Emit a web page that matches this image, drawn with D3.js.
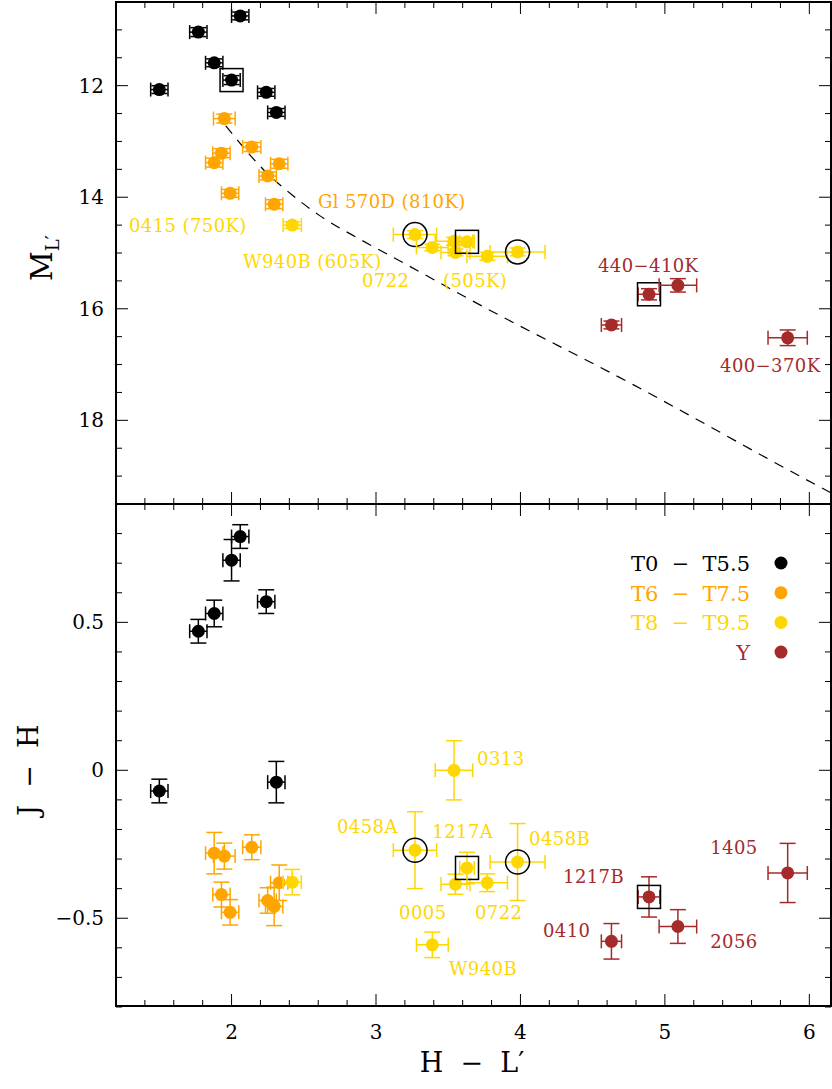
<!DOCTYPE html>
<html><head><meta charset="utf-8">
<script src="https://cdn.jsdelivr.net/npm/d3@7"></script>
<style>body{margin:0;background:#fff}</style>
</head><body><svg id="c" width="832" height="1089"></svg>
<script>
// ---------------- DATA ----------------
const groupNames = ["T0  −  T5.5", "T6  −  T7.5", "T8  −  T9.5", "Y"];
const groupColors = ["#000000", "#FFA500", "#FFD700", "#A52A2A"];

// T0 - T5.5
const t0Names = ["", "", "", "", "", "", ""];
const t0HL    = [1.50, 1.77, 1.88, 2.00, 2.06, 2.24, 2.31];
const t0HLerr = [0.06, 0.06, 0.06, 0.06, 0.06, 0.06, 0.06];
const t0ML    = [12.07, 11.04, 11.59, 11.90, 10.75, 12.12, 12.48];
const t0MLerr = [0.07, 0.08, 0.07, 0.08, 0.07, 0.07, 0.07];
const t0JH    = [-0.07, 0.47, 0.53, 0.71, 0.79, 0.57, -0.04];
const t0JHerr = [0.04, 0.04, 0.045, 0.07, 0.04, 0.04, 0.07];

// T6 - T7.5
const t6Names = ["", "", "", "", "", "", "", "Gl 570D"];
const t6HL    = [1.88, 1.95, 2.14, 1.93, 1.99, 2.33, 2.25, 2.295];
const t6HLerr = [0.06, 0.075, 0.063, 0.06, 0.06, 0.06, 0.06, 0.06];
const t6ML    = [13.38, 12.59, 13.10, 13.21, 13.93, 13.40, 13.62, 14.125];
const t6MLerr = [0.08, 0.08, 0.08, 0.08, 0.07, 0.08, 0.07, 0.08];
const t6JH    = [-0.28, -0.29, -0.26, -0.42, -0.48, -0.38, -0.44, -0.46];
const t6JHerr = [0.07, 0.044, 0.042, 0.042, 0.043, 0.06, 0.043, 0.065];

// T8 - T9.5
const t8Names = ["0415", "0458A", "W940B", "0313", "0005", "1217A", "0722", "0458B"];
const t8HL    = [2.42, 3.27, 3.39, 3.54, 3.55, 3.63, 3.77, 3.98];
const t8HLerr = [0.063, 0.15, 0.11, 0.13, 0.10, 0.05, 0.14, 0.19];
const t8ML    = [14.50, 14.67, 14.90, 14.79, 14.99, 14.80, 15.06, 14.98];
const t8MLerr = [0.06, 0.07, 0.06, 0.07, 0.06, 0.06, 0.07, 0.07];
const t8JH    = [-0.378, -0.27, -0.59, 0.0, -0.385, -0.33, -0.38, -0.31];
const t8JHerr = [0.043, 0.13, 0.043, 0.10, 0.034, 0.053, 0.03, 0.13];

// Y dwarfs
const yNames = ["0410", "1217B", "2056", "1405"];
const yHL    = [4.63, 4.89, 5.09, 5.85];
const yHLerr = [0.07, 0.075, 0.13, 0.136];
const yML    = [16.29, 15.74, 15.58, 16.52];
const yMLerr = [0.07, 0.10, 0.12, 0.14];
const yJH    = [-0.578, -0.428, -0.528, -0.347];
const yJHerr = [0.06, 0.068, 0.057, 0.10];

// highlighted objects (open box / open circle)
const boxTop = ["t0:3", "1217A", "1217B"];
const boxBot = ["1217A", "1217B"];
const circled = ["0458A", "0458B"];

// dashed model relation, H-L' vs M_L'
const lineHL = [1.96, 2.25, 2.42, 2.61, 2.90, 3.22, 3.64, 4.78, 6.07, 6.15];
const lineML = [12.72, 13.58, 13.96, 14.33, 14.77, 15.22, 15.82, 17.36, 19.19, 19.30];

// annotations [text, H-L', value, group]
const topNotes = [
  ["Gl 570D (810K)", 2.598, 14.19, 1],
  ["0415 (750K)", 1.29, 14.62, 2],
  ["W940B (605K)", 2.08, 15.27, 2],
  ["0722", 2.903, 15.61, 2],
  ["(505K)", 3.464, 15.61, 2],
  ["440−410K", 4.537, 15.34, 3],
  ["400−370K", 5.382, 17.13, 3]
];
const botNotes = [
  ["0313", 3.70, 0.018, 2],
  ["0458A", 2.73, -0.212, 2],
  ["1217A", 3.39, -0.229, 2],
  ["0458B", 4.06, -0.252, 2],
  ["0005", 3.16, -0.502, 2],
  ["0722", 3.685, -0.502, 2],
  ["W940B", 3.505, -0.692, 2],
  ["1217B", 4.295, -0.380, 3],
  ["0410", 4.156, -0.563, 3],
  ["1405", 5.314, -0.282, 3],
  ["2056", 5.314, -0.600, 3]
];

const xTicks = [2, 3, 4, 5, 6];
const yTopTicks = [12, 14, 16, 18];
const yBotTicks = [0.5, 0, -0.5];
const yBotTickLabels = ["0.5", "0", "−0.5"];

// ---------------- BUILD ----------------
const groups = [
  [t0Names, t0HL, t0HLerr, t0ML, t0MLerr, t0JH, t0JHerr],
  [t6Names, t6HL, t6HLerr, t6ML, t6MLerr, t6JH, t6JHerr],
  [t8Names, t8HL, t8HLerr, t8ML, t8MLerr, t8JH, t8JHerr],
  [yNames, yHL, yHLerr, yML, yMLerr, yJH, yJHerr]
];
const pts = [];
groups.forEach((g, gi) => {
  g[1].forEach((v, i) => {
    pts.push({g: gi, key: g[0][i] || ("t" + (gi === 0 ? "0" : "6") + ":" + i),
      hl: v, ehl: g[2][i], ml: g[3][i], eml: g[4][i], jh: g[5][i], ejh: g[6][i]});
  });
});

const svg = d3.select("#c");
const L = 116, R = 831;
const x = d3.scaleLinear().domain([1.2, 6.15]).range([L, R]);
const yT = d3.scaleLinear().domain([10.5, 19.5]).range([2, 504]);
const yB = d3.scaleLinear().domain([0.9, -0.8]).range([504, 1007]);

const FONT = "'DejaVu Serif', serif";

function range(a, b, s) { const o = []; for (let v = a; v <= b + 1e-9; v += s) o.push(+v.toFixed(4)); return o; }

function frame(y, top, bot, yMaj, yMin) {
  const g = svg.append("g");
  const xMaj = [2, 3, 4, 5, 6];
  const xMin = range(1.2, 6.15, 0.2).filter(v => Math.abs(v - Math.round(v)) > 1e-6);
  const drawX = (vals, len) => {
    vals.forEach(v => {
      g.append("line").attr("x1", x(v)).attr("x2", x(v)).attr("y1", top).attr("y2", top + len)
        .attr("stroke", "#000").attr("stroke-width", 1);
      g.append("line").attr("x1", x(v)).attr("x2", x(v)).attr("y1", bot).attr("y2", bot - len)
        .attr("stroke", "#000").attr("stroke-width", 1);
    });
  };
  drawX(xMaj, 12); drawX(xMin, 6);
  const drawY = (vals, len) => {
    vals.forEach(v => {
      g.append("line").attr("x1", L).attr("x2", L + len).attr("y1", y(v)).attr("y2", y(v))
        .attr("stroke", "#000").attr("stroke-width", 1);
      g.append("line").attr("x1", R).attr("x2", R - len).attr("y1", y(v)).attr("y2", y(v))
        .attr("stroke", "#000").attr("stroke-width", 1);
    });
  };
  drawY(yMaj, 12); drawY(yMin, 6);
  g.append("rect").attr("x", L).attr("y", top).attr("width", R - L).attr("height", bot - top)
    .attr("fill", "none").attr("stroke", "#000").attr("stroke-width", 2);
}

frame(yT, 2, 504, [12, 14, 16, 18], range(10.5, 19.5, 0.5).filter(v => v % 2 !== 0));
frame(yB, 504, 1006, [0.5, 0, -0.5], range(-0.8, 0.9, 0.1).filter(v => Math.abs(v * 2 - Math.round(v * 2)) > 1e-6));

// tick labels
svg.append("g").selectAll("text").data(xTicks).join("text")
  .attr("x", d => x(d)).attr("y", 1039).attr("text-anchor", "middle")
  .attr("font-family", FONT).attr("font-size", 20).text(d => d);
svg.append("g").selectAll("text").data(yTopTicks).join("text")
  .attr("x", 104).attr("y", d => yT(d) + 7).attr("text-anchor", "end")
  .attr("font-family", FONT).attr("font-size", 20).text(d => d);
svg.append("g").selectAll("text").data(yBotTicks).join("text")
  .attr("x", 104).attr("y", d => yB(d) + 7).attr("text-anchor", "end")
  .attr("font-family", FONT).attr("font-size", 20).text((d, i) => yBotTickLabels[i]);

// axis titles
const mt = svg.append("text").attr("transform", "translate(52,258) rotate(-90)")
  .attr("text-anchor", "middle").attr("font-family", FONT).attr("font-size", 29);
mt.append("tspan").text("M");
mt.append("tspan").attr("font-size", 18).attr("dy", 7).text("L′");
svg.append("text").attr("transform", "translate(38,770) rotate(-90)")
  .attr("text-anchor", "middle").attr("font-family", FONT).attr("font-size", 27)
  .attr("xml:space", "preserve").text("J  −  H");
svg.append("text").attr("x", 472).attr("y", 1072).attr("text-anchor", "middle")
  .attr("font-family", FONT).attr("font-size", 27).attr("xml:space", "preserve").text("H  −  L′");

// dashed relation
svg.append("clipPath").attr("id", "clipT").append("rect")
  .attr("x", L).attr("y", 2).attr("width", R - L).attr("height", 502);
svg.append("path").datum(lineHL.map((v, i) => [v, lineML[i]]))
  .attr("clip-path", "url(#clipT)")
  .attr("d", d3.line().curve(d3.curveMonotoneX).x(d => x(d[0])).y(d => yT(d[1])))
  .attr("fill", "none").attr("stroke", "#000").attr("stroke-width", 1.2).attr("stroke-dasharray", "10,8");

// points
function drawPoints(y, vk, ek, boxes) {
  const g = svg.append("g");
  const capX = 7, capY = 8;
  pts.forEach(p => {
    const c = groupColors[p.g];
    const cx = x(p.hl), cy = y(p[vk]);
    const x0 = x(p.hl - p.ehl), x1 = x(p.hl + p.ehl);
    const ya = y(p[vk] - p[ek]), yb = y(p[vk] + p[ek]);
    const sw = 1.5;
    g.append("line").attr("x1", x0).attr("x2", x1).attr("y1", cy).attr("y2", cy).attr("stroke", c).attr("stroke-width", sw);
    g.append("line").attr("x1", x0).attr("x2", x0).attr("y1", cy - capX).attr("y2", cy + capX).attr("stroke", c).attr("stroke-width", sw);
    g.append("line").attr("x1", x1).attr("x2", x1).attr("y1", cy - capX).attr("y2", cy + capX).attr("stroke", c).attr("stroke-width", sw);
    g.append("line").attr("x1", cx).attr("x2", cx).attr("y1", ya).attr("y2", yb).attr("stroke", c).attr("stroke-width", sw);
    g.append("line").attr("x1", cx - capY).attr("x2", cx + capY).attr("y1", ya).attr("y2", ya).attr("stroke", c).attr("stroke-width", sw);
    g.append("line").attr("x1", cx - capY).attr("x2", cx + capY).attr("y1", yb).attr("y2", yb).attr("stroke", c).attr("stroke-width", sw);
    g.append("circle").attr("cx", cx).attr("cy", cy).attr("r", 6.5).attr("fill", c);
    if (boxes.includes(p.key)) {
      g.append("rect").attr("x", cx - 11.5).attr("y", cy - 11.5).attr("width", 23).attr("height", 23)
        .attr("fill", "none").attr("stroke", "#000").attr("stroke-width", 1.5);
    }
    if (circled.includes(p.key)) {
      g.append("circle").attr("cx", cx).attr("cy", cy).attr("r", 12)
        .attr("fill", "none").attr("stroke", "#000").attr("stroke-width", 1.5);
    }
  });
}
drawPoints(yT, "ml", "eml", boxTop);
drawPoints(yB, "jh", "ejh", boxBot);

// annotations
function notes(arr, y) {
  svg.append("g").selectAll("text").data(arr).join("text")
    .attr("x", d => x(d[1])).attr("y", d => y(d[2]))
    .attr("fill", d => groupColors[d[3]]).attr("font-family", FONT).attr("font-size", 18)
    .attr("letter-spacing", 0.4)
    .text(d => d[0]);
}
notes(topNotes, yT);
notes(botNotes, yB);

// legend
const lg = svg.append("g");
groupNames.forEach((n, i) => {
  const yy = 563 + i * 29.7;
  lg.append("text").attr("x", 750).attr("y", yy + 8).attr("text-anchor", "end")
    .attr("fill", groupColors[i]).attr("font-family", FONT).attr("font-size", 21)
    .attr("xml:space", "preserve").text(n);
  lg.append("circle").attr("cx", 781).attr("cy", yy).attr("r", 6.5).attr("fill", groupColors[i]);
});
</script></body></html>
